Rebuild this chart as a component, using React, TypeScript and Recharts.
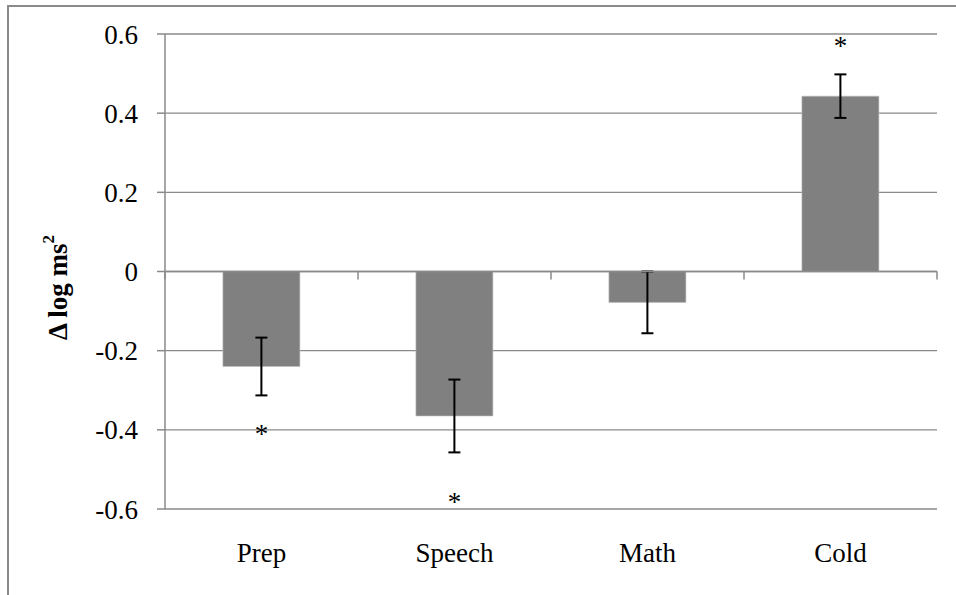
import React from 'react';
import { ComposedChart, Bar, Scatter, XAxis, YAxis, CartesianGrid, ErrorBar, ReferenceLine } from 'recharts';

const categories = ['Prep', 'Speech', 'Math', 'Cold'];
const means = [-0.24, -0.365, -0.078, 0.443];
const errors = [0.073, 0.092, 0.078, 0.055];
// where the significance asterisks sit (y value), null = none
const stars: (number | null)[] = [-0.4, -0.572, null, 0.58];
const yTicks = [-0.6, -0.4, -0.2, 0, 0.2, 0.4, 0.6];

const data = categories.map((name, i) => ({ name, mean: means[i], err: errors[i], star: stars[i] }));

const GREY = '#8a8a8a';
const FONT = '"Liberation Serif", "Times New Roman", serif';
const FS = 27;

const ZeroAxis = (props: any) => {
  const { x1, x2, y1 } = props;
  if (x1 == null) return null;
  const n = categories.length;
  const step = (x2 - x1) / n;
  return (
    <g>
      <line x1={x1} x2={x2} y1={y1} y2={y1} stroke={GREY} strokeWidth={1.5} />
      {Array.from({ length: n + 1 }, (_, i) => (
        <line key={i} x1={x1 + i * step} x2={x1 + i * step} y1={y1} y2={y1 + 8} stroke={GREY} strokeWidth={1.5} />
      ))}
    </g>
  );
};

const StarShape = (props: any) => {
  const { cx, cy, payload } = props;
  if (cx == null || cy == null || !payload || payload.star == null) return null;
  return (
    <text x={cx} y={cy} dy="0.5em" textAnchor="middle" fontFamily={FONT} fontSize={FS} fill="#000">
      *
    </text>
  );
};

const YLabel = (props: any) => {
  const { viewBox } = props;
  const x = 58;
  const y = viewBox.y + viewBox.height / 2 + 16;
  return (
    <text
      x={x}
      y={y}
      transform={`rotate(-90, ${x}, ${y})`}
      textAnchor="middle"
      dominantBaseline="central"
      fontFamily={FONT}
      fontSize={FS}
      fontWeight="bold"
      fill="#000"
    >
      Δ log ms<tspan fontSize={17} dy={-10}>2</tspan>
    </text>
  );
};

export default function App() {
  return (
    <div style={{ position: 'absolute', left: 0, top: 0, width: 956, height: 595, overflow: 'hidden', background: '#fff' }}>
      <div
        style={{
          position: 'absolute',
          left: 7,
          top: 5,
          width: 1000,
          height: 1000,
          borderLeft: `2px solid ${GREY}`,
          borderTop: `2px solid ${GREY}`,
        }}
      />
      <div style={{ position: 'absolute', left: 0, top: 0 }}>
        <ComposedChart
          width={956}
          height={595}
          data={data}
          margin={{ top: 34, right: 19, left: 0, bottom: 0 }}
          barCategoryGap="30%"
          style={{ fontFamily: FONT }}
        >
          <CartesianGrid horizontal vertical={false} stroke={GREY} strokeWidth={1.3} />
          <XAxis
            dataKey="name"
            axisLine={false}
            tickLine={false}
            tickSize={0}
            tickMargin={34}
            height={86}
            tick={{ fill: '#000', fontSize: FS, fontFamily: FONT }}
          />
          <YAxis
            width={165}
            domain={[-0.6, 0.6]}
            ticks={yTicks}
            tickSize={8}
            tickMargin={19}
            axisLine={{ stroke: GREY, strokeWidth: 1.5 }}
            tickLine={{ stroke: GREY, strokeWidth: 1.5 }}
            tick={{ fill: '#000', fontSize: FS, fontFamily: FONT }}
            label={{ content: YLabel }}
          />
          <Bar dataKey="mean" fill="#808080" stroke="#bdbdbd" strokeWidth={0.6} isAnimationActive={false}>
            <ErrorBar dataKey="err" width={6} stroke="#000" strokeWidth={2} isAnimationActive={false} />
          </Bar>
          <ReferenceLine y={0} shape={ZeroAxis} />
          <Scatter dataKey="star" shape={StarShape} isAnimationActive={false} />
        </ComposedChart>
      </div>
    </div>
  );
}
